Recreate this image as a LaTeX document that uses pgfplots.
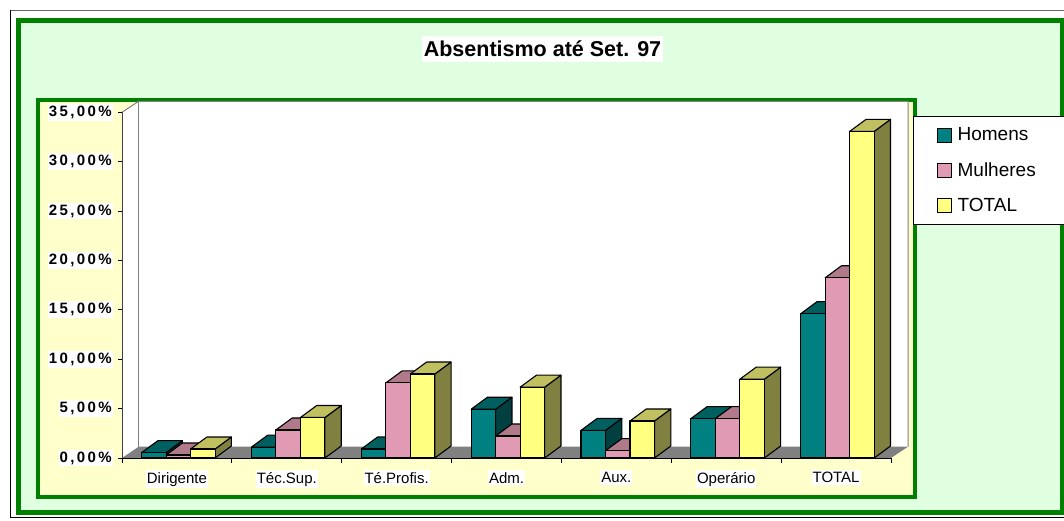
\documentclass[border=0pt]{standalone}
\usepackage{pgfplots}
\pgfplotsset{compat=1.18}
\usepackage{pgfplotstable}
\usepackage{fontspec}
\setmainfont{Liberation Sans}
\newfontfamily\tickfont[LetterSpace=16]{Liberation Sans}

\definecolor{hfront}{HTML}{008080}
\definecolor{htop}{HTML}{006060}
\definecolor{hside}{HTML}{004040}
\definecolor{mfront}{HTML}{E09AB3}
\definecolor{mtop}{HTML}{B07A8A}
\definecolor{mside}{HTML}{704D58}
\definecolor{tfront}{HTML}{FFFF80}
\definecolor{ttop}{HTML}{C0C060}
\definecolor{tside}{HTML}{808040}
\definecolor{xlgreen}{HTML}{008000}
\definecolor{mint}{HTML}{E0FFE0}
\definecolor{cream}{HTML}{FFFFCC}

\pgfplotstableread{
cat H M T
Dirigente 0.54 0.30 0.91
TecSup 1.10 2.84 4.10
TeProfis 0.91 7.60 8.50
Adm 4.94 2.23 7.17
Aux 2.80 0.74 3.75
Operario 3.99 3.99 7.98
TOTAL 14.61 18.25 33.07
}\datatable

\pgfplotsset{
  bar3d/.style n args={3}{
    scatter, only marks, mark=*, mark size=0.01pt,
    mark options={draw=none,fill=none},
    visualization depends on={rawy \as \val},
    scatter/@pre marker code/.code={%
      \pgfmathsetmacro\barh{\val*9.877}%
      \pgfmathsetmacro\barhs{12-\barh}%
      \filldraw[fill=#3,draw=black,line width=1.1pt,line join=round]
        (12.25pt,0pt)--(28.55pt,12pt)--(28.55pt,\barhs pt)--(12.25pt,-\barh pt)--cycle;
      \filldraw[fill=#2,draw=black,line width=1.1pt,line join=round]
        (-12.25pt,0pt)--(4.05pt,12pt)--(28.55pt,12pt)--(12.25pt,0pt)--cycle;
      \filldraw[fill=#1,draw=black,line width=1.1pt,line join=round]
        (-12.25pt,-\barh pt) rectangle (12.25pt,0pt);
    },
    scatter/@post marker code/.code={},
    legend image code/.code={\filldraw[fill=#1,draw=black,line width=1pt] (0pt,-7pt) rectangle (14pt,7pt); \path (18pt,0pt);},
  },
}

\begin{document}
\begin{tikzpicture}[x=1pt,y=1pt]
\useasboundingbox (0,0) rectangle (1064,520);
\fill[white] (0,0) rectangle (1064,520);
\draw[black,line width=1pt] (10.5,2.5) -- (10.5,509.5);
\draw[black!60,line width=1pt] (10.5,509.5) -- (1070,509.5);
\draw[black,line width=1pt] (10.5,2.5) -- (1070,2.5);
\filldraw[fill=mint,draw=xlgreen,line width=5pt] (18.5,7.5) rectangle (1062,499.7);
\filldraw[fill=cream,draw=xlgreen,line width=4pt] (38,23.3) rectangle (915,420.3);
% walls and floor
\fill[white] (122,62) -- (122,407.7) -- (138.7,418.7) -- (908,418.7) -- (908,73.3) -- (891,62) -- cycle;
\fill[gray] (122,62) -- (138.7,73.3) -- (908,73.3) -- (891,62) -- cycle;
\draw[gray,line width=1pt] (122,407.7) -- (138.7,418.7) -- (908,418.7) -- (908,73.3);
\draw[gray,line width=1pt] (138.7,73.3) -- (138.7,418.7);
\node[fill=white, inner xsep=2pt, inner ysep=5pt, font=\fontsize{21.5}{26}\selectfont\bfseries] at (542.5,471) {Absentismo até Set. 97};
\begin{axis}[
  at={(122pt,62pt)}, anchor=origin,
  x=109.857pt, y=9.877pt,
  xmin=0, xmax=7, ymin=0, ymax=35,
  clip=false,
  axis x line*=bottom, axis y line*=left,
  x axis line style={black,line width=1pt},
  y axis line style={black!75,line width=1pt},
  xtick={0.5,1.5,...,6.5},
  xticklabels={Dirigente,Téc.Sup.,Té.Profis.,Adm.,Aux.,Operário,TOTAL},
  minor xtick={0,1,...,7},
  major x tick style={draw=none},
  minor x tick style={black,line width=1pt},
  minor tick length=5pt,
  ytick={0,5,...,35},
  ytick style={black,line width=1pt},
  major tick length=4pt,
  tick align=outside,
  yticklabel={\pgfmathprintnumber[fixed,fixed zerofill,precision=2,use comma]{\tick}\%},
  /pgf/number format/assume math mode=true,
  yticklabel style={font=\fontsize{15}{18}\selectfont\tickfont\bfseries, fill=white, inner xsep=1pt, inner ysep=2pt, xshift=-5pt},
  xticklabel style={font=\fontsize{15}{18}\selectfont, fill=white, inner xsep=1pt, inner ysep=2pt, yshift=-8pt},
  legend style={at={(1.029,0.9893)}, anchor=north west, draw=black, line width=0.8pt, fill=white,
    font=\fontsize{19}{22}\selectfont, inner xsep=23pt, inner ysep=9.5pt, row sep=16pt},
  legend cell align=left,
]
\addplot[bar3d={hfront}{htop}{hside}] table[x expr=\coordindex+0.2897, y=H] {\datatable};
\addlegendentry{\makebox[110pt][l]{Homens}}
\addplot[bar3d={mfront}{mtop}{mside}] table[x expr=\coordindex+0.5127, y=M] {\datatable};
\addlegendentry{\makebox[110pt][l]{Mulheres}}
\addplot[bar3d={tfront}{ttop}{tside}] table[x expr=\coordindex+0.7357, y=T] {\datatable};
\addlegendentry{\makebox[110pt][l]{TOTAL}}
\end{axis}
\end{tikzpicture}
\end{document}
